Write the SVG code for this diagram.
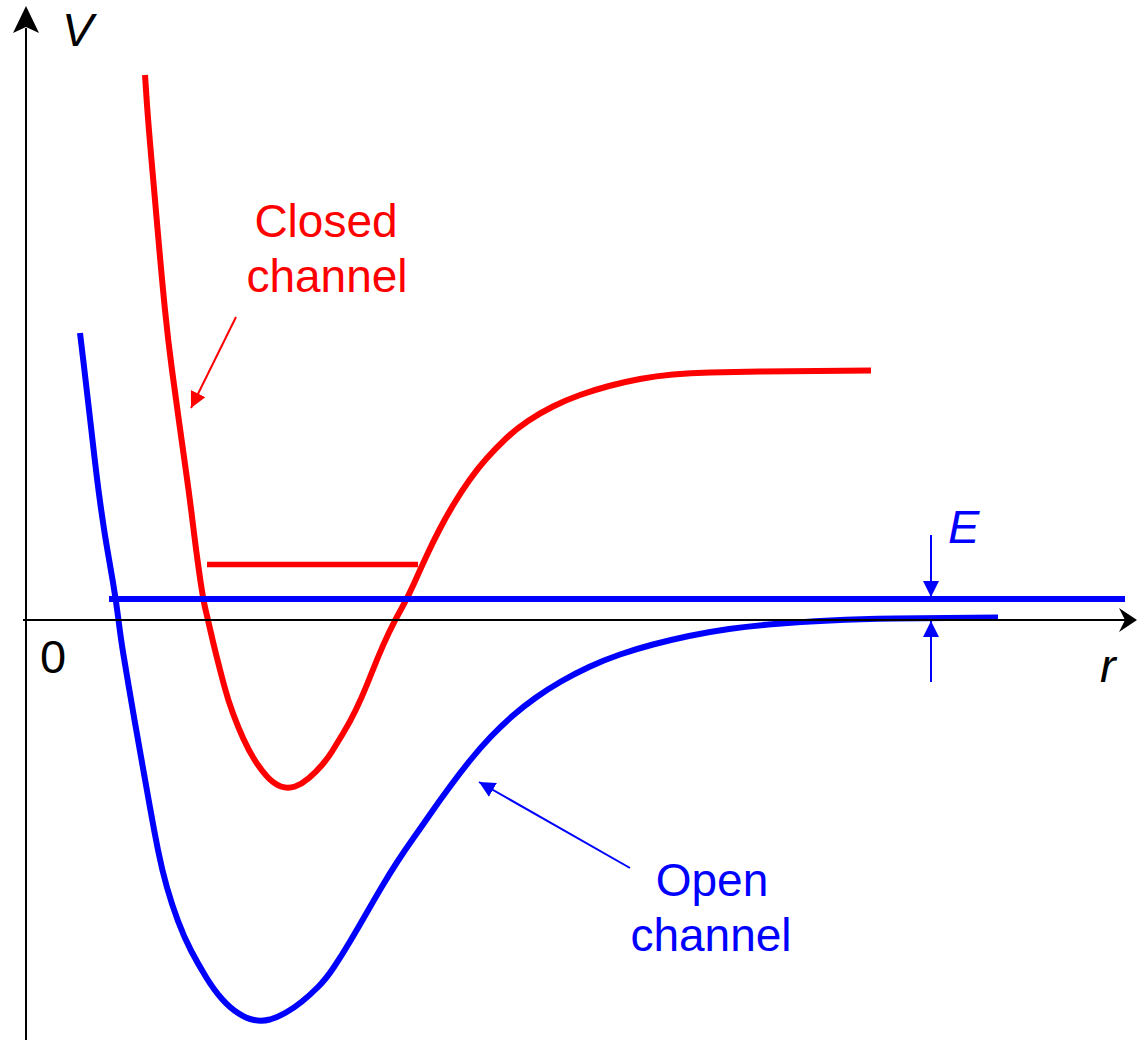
<svg xmlns="http://www.w3.org/2000/svg" width="1137" height="1040" viewBox="0 0 1137 1040">
<style>
.curve{fill:none;stroke-width:6;stroke-linejoin:round;stroke-linecap:butt}
.red{stroke:#FF0000}
.blue{stroke:#0000FF}
.axis{fill:none;stroke:#000;stroke-width:2}
.lbl{font-family:"Liberation Sans",Arial,sans-serif;font-size:46px}
.it{font-family:"Liberation Sans",Arial,sans-serif;font-size:47px;font-style:italic}
.ptr{fill:none;stroke-width:2}
</style>
<defs>
<marker id="ahR" markerUnits="userSpaceOnUse" markerWidth="18" markerHeight="18" refX="16" refY="8" orient="auto"><path d="M0,0 L16,8 L0,16 z" fill="#FF0000"/></marker>
<marker id="ahB" markerUnits="userSpaceOnUse" markerWidth="18" markerHeight="18" refX="16" refY="8" orient="auto"><path d="M0,0 L16,8 L0,16 z" fill="#0000FF"/></marker>
</defs>
<rect width="1137" height="1040" fill="#fff"/>

<g id="closed-channel">
<path class="curve red" d="M145,75 L146.5,97.5 Q148,120 151.5,160 Q155,200 158.5,240 Q162,280 165,310 Q168,340 172,370 Q176,400 179.5,425 Q183,450 186.5,475 Q190,500 193,525 Q196,550 199.5,574.5 Q203,599 205.5,609.5 Q208,620 210.5,631 Q213,642 216.5,656 Q220,670 224,685 Q228,700 233,713.5 Q238,727 243.5,739 Q249,751 255,760.5 Q261,770 267.5,777 Q274,784 281,786.5 Q288,789 295,786.5 Q302,784 309,778 Q316,772 322,765 Q328,758 332,751.5 Q336,745 343,733.5 Q350,722 356,709.5 Q362,697 367,684.5 Q372,672 377.5,658.5 Q383,645 389,632.5 Q395,620 401.5,608.5 Q408,597 414,583.5 Q420,570 426.5,556 Q433,542 439.5,529.5 Q446,517 453.5,504.5 Q461,492 469.5,480 Q478,468 487,458 Q496,448 506,438.5 Q516,429 528,421 Q540,413 553,406.5 Q566,400 580,395 Q594,390 609,386 Q624,382 640,379 Q656,376 673,374.5 Q690,373 710,372.5 Q730,372 760,371.5 L871,370.5"/>
<line class="red" x1="207" y1="564.5" x2="418" y2="564.5" stroke-width="5.5"/>
<text class="lbl" fill="#FF0000" x="326" y="237" text-anchor="middle">Closed</text>
<text class="lbl" fill="#FF0000" x="327" y="292" text-anchor="middle">channel</text>
<line class="ptr" stroke="#FF0000" x1="236" y1="317" x2="191" y2="408" marker-end="url(#ahR)"/>
</g>

<g id="open-channel">
<path class="curve blue" d="M80,333 L84,366.5 Q88,400 92.5,440 Q97,480 100.5,505 Q104,530 107,547.5 Q110,565 113,582.5 Q116,600 118.5,620 Q121,640 123.5,655 Q126,670 128.5,685 Q131,700 134.5,720 Q138,740 142,762.5 Q146,785 150,807.5 Q154,830 158,850 Q162,870 167,887.5 Q172,905 178,921 Q184,937 191,950.5 Q198,964 206,977 Q214,990 222,999 Q230,1008 238,1013 Q246,1018.5 254,1020 Q262,1021.5 270,1019.5 Q278,1017 286,1012.5 Q294,1008 302,1001.5 Q310,995 318,987 Q326,979 334,967 Q342,955 350,941.5 Q358,928 366,914 Q374,900 382,886.5 Q390,873 397.5,861.5 Q405,850 413.5,838 Q422,826 431,813 Q440,800 450,786.5 Q460,773 470,760.5 Q480,748 491,736.5 Q502,725 513,715.5 Q524,706 536,697.5 Q548,689 561,681.5 Q574,674 589,667 Q604,660 620,654.5 Q636,649 653,644.5 Q670,640 689,636 Q708,632 729,629 Q750,626 775,624 Q800,622 830,620.5 Q860,619 895,618.5 L998,617.5"/>
<text class="lbl" fill="#0000FF" x="712" y="896" text-anchor="middle">Open</text>
<text class="lbl" fill="#0000FF" x="711" y="951" text-anchor="middle">channel</text>
<line class="ptr" stroke="#0000FF" x1="630" y1="868" x2="479" y2="782" marker-end="url(#ahB)"/>
</g>

<g id="energy">
<line class="blue" x1="109" y1="599" x2="1125" y2="599" stroke-width="6"/>
<text class="it" fill="#0000FF" x="948" y="543">E</text>
</g>

<g id="axes">
<line class="axis" x1="26" y1="1040" x2="26" y2="28"/>
<path d="M26,6 L39,33 L26,27 L13,33 z" fill="#000"/>
<line class="axis" x1="23" y1="620" x2="1128" y2="620"/>
<path d="M1137,620 L1119,608 L1125,620 L1119,632 z" fill="#000"/>
<text class="it" fill="#000" x="62" y="46">V</text>
<text class="it" fill="#000" x="1100" y="682">r</text>
<text class="lbl" fill="#000" x="40" y="673" style="font-size:47px">0</text>
</g>

<g id="connectors">
<line class="ptr" stroke="#0000FF" x1="931" y1="535" x2="931" y2="597" marker-end="url(#ahB)"/>
<line class="ptr" stroke="#0000FF" x1="931" y1="682" x2="931" y2="621" marker-end="url(#ahB)"/>
</g>
</svg>
